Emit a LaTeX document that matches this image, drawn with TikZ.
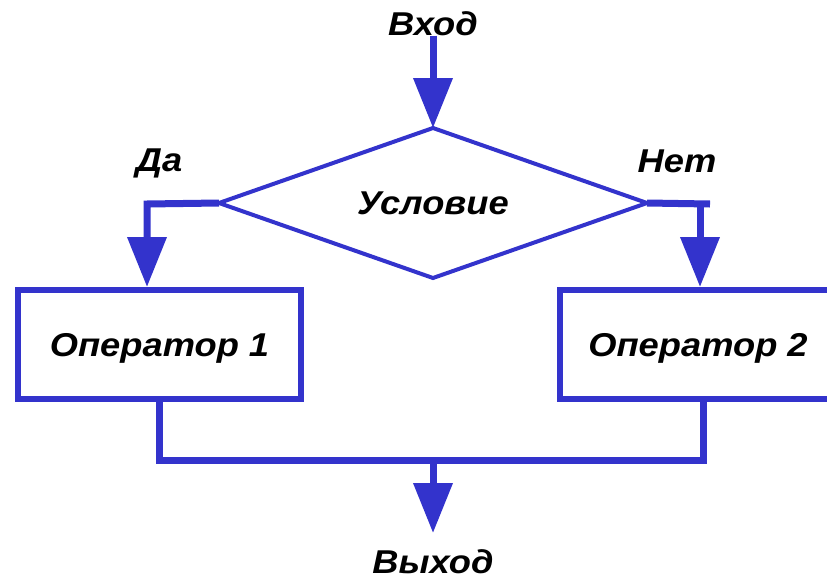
\documentclass[tikz,border=0pt]{standalone}
\usepackage{fontspec}
\setmainfont{Liberation Sans}
\newfontfamily\lblfont[FakeStretch=1.1]{Liberation Sans}
\usetikzlibrary{shapes.geometric,arrows.meta}
\definecolor{fblue}{RGB}{51,51,204}
\newcommand{\lblsize}{\lblfont\fontsize{33}{33}\selectfont\bfseries\itshape}
\begin{document}
\begin{tikzpicture}[x=1pt,y=-1pt,
  lbl/.style={font=\lblsize, text=black, inner sep=0pt},
  conn/.style={draw=fblue, line width=7pt},
  arr/.style={-{Triangle[width=38pt,length=50pt]}},
  opbox/.style={draw=fblue, line width=6pt, minimum height=109pt, inner sep=0pt,
    font=\lblsize, text height=23pt, text depth=0pt},
  cond/.style={diamond, draw=fblue, line width=4pt, minimum width=428pt, minimum height=150pt,
    shape aspect=2.85, inner sep=0pt, outer sep=0pt, font=\lblsize}]
\useasboundingbox (0,0) rectangle (827,581);
\node[lbl, anchor=base] (in) at (433,35) {Вход};
\node[cond] (cnd) at (433,203) {Условие};
\node[lbl, anchor=base] (yes) at (159,171) {Да};
\node[lbl, anchor=base] (no) at (677,172) {Нет};
\node[opbox, minimum width=283pt] (op1) at (159.5,344.5) {Оператор 1};
\node[opbox, minimum width=276pt] (op2) at (698,344.5) {Оператор 2};
\node[lbl, anchor=base] (out) at (433,573) {Выход};
\coordinate (lt) at (147,204);
\coordinate (rt) at (700,204);
\coordinate (rtend) at (710,204);
\coordinate (lb) at (159,460);
\coordinate (rb) at (703,460);
\coordinate (join) at (433,460);
\coordinate (exitpt) at (433,533);
\draw[conn, arr] (in.south) -- (cnd.north);
\draw[conn, arr] (cnd.west) -- (lt) -- (lt |- op1.north);
\draw[conn] (cnd.east) -- (rtend);
\draw[conn, arr] (rt) -- (rt |- op2.north);
\draw[conn] (op1.south -| lb) -- (lb) -- (rb) -- (op2.south -| rb);
\draw[conn, arr] (join) -- (exitpt);
\end{tikzpicture}
\end{document}
